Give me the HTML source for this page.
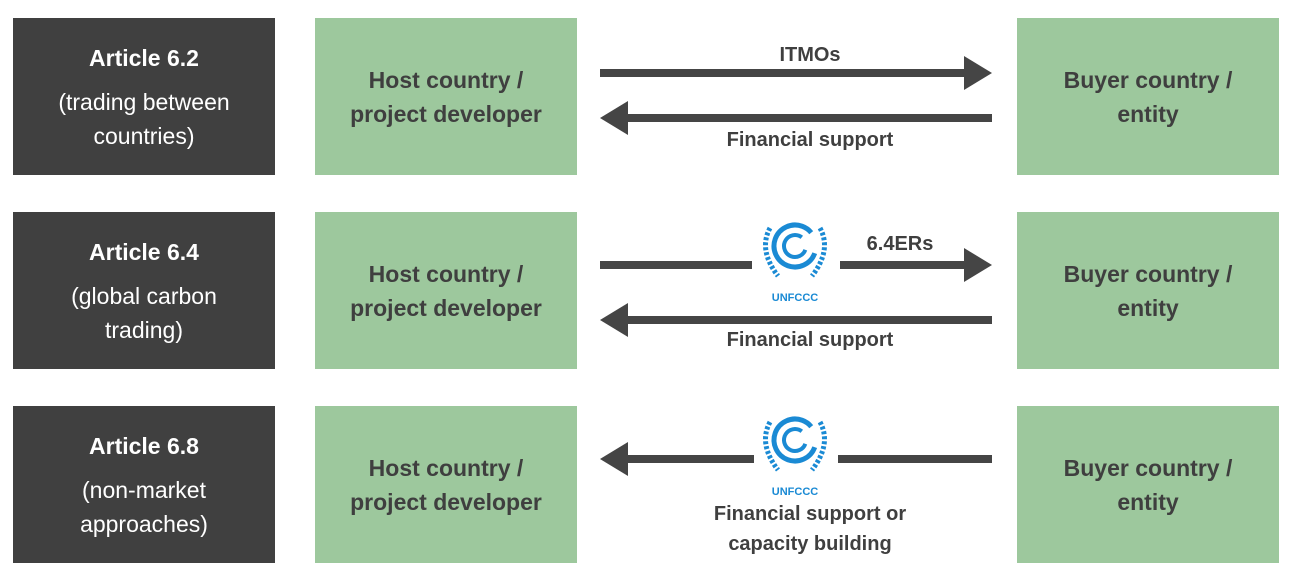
<!DOCTYPE html>
<html><head><style>
body{margin:0;width:1294px;height:588px;background:#fff;font-family:"Liberation Sans",sans-serif;position:relative;overflow:hidden}
.b{position:absolute;display:flex;align-items:center;justify-content:center;text-align:center;flex-direction:column}
.d{background:#404040;color:#fff;left:13px;width:262px;height:157px;font-size:23px;line-height:34px}
.d b{font-size:23px;margin-bottom:10px}
.g{background:#9dc89d;color:#3f3f3f;font-weight:bold;font-size:23px;line-height:34px;width:262px;height:157px}
.t{position:absolute;color:#3f3f3f;font-weight:bold;font-size:20px;text-align:center;line-height:30px}
svg{position:absolute;left:0;top:0}
</style></head><body>
<div class="b d" style="top:18px"><b>Article 6.2</b>(trading between<br>countries)</div>
<div class="b d" style="top:212px"><b>Article 6.4</b>(global carbon<br>trading)</div>
<div class="b d" style="top:406px"><b>Article 6.8</b>(non-market<br>approaches)</div>
<div class="b g" style="left:315px;top:18px">Host country /<br>project developer</div>
<div class="b g" style="left:315px;top:212px">Host country /<br>project developer</div>
<div class="b g" style="left:315px;top:406px">Host country /<br>project developer</div>
<div class="b g" style="left:1017px;top:18px">Buyer country /<br>entity</div>
<div class="b g" style="left:1017px;top:212px">Buyer country /<br>entity</div>
<div class="b g" style="left:1017px;top:406px">Buyer country /<br>entity</div>
<svg width="1294" height="588">
<g fill="#454545">
<rect x="600" y="69" width="368" height="8"/><polygon points="964,56 992,73 964,90"/>
<rect x="624" y="114" width="368" height="8"/><polygon points="628,101 600,118 628,135"/>
<rect x="600" y="261" width="152" height="8"/><rect x="840" y="261" width="128" height="8"/><polygon points="964,248 992,265 964,282"/>
<rect x="624" y="316" width="368" height="8"/><polygon points="628,303 600,320 628,337"/>
<rect x="624" y="455" width="130" height="8"/><rect x="838" y="455" width="154" height="8"/><polygon points="628,442 600,459 628,476"/>
</g>
<g id="lg" fill="none" stroke="#1a8ad4">
<circle cx="795" cy="246" r="21" stroke-width="5" stroke-dasharray="110 22" transform="rotate(20 795 246)"/>
<circle cx="795" cy="246" r="11" stroke-width="4" stroke-dasharray="55 14" transform="rotate(20 795 246)"/>
<path d="M770 228 Q758 250 778 276" stroke-width="5" stroke-dasharray="3 2"/>
<path d="M820 228 Q832 250 812 276" stroke-width="5" stroke-dasharray="3 2"/>
</g>
<text x="795" y="301" font-family="Liberation Sans" font-weight="bold" font-size="11" fill="#1a8ad4" text-anchor="middle">UNFCCC</text>
<use href="#lg" y="194"/>
<text x="795" y="495" font-family="Liberation Sans" font-weight="bold" font-size="11" fill="#1a8ad4" text-anchor="middle">UNFCCC</text>
</svg>
<div class="t" style="left:700px;top:40px;width:220px">ITMOs</div>
<div class="t" style="left:680px;top:125px;width:260px">Financial support</div>
<div class="t" style="left:850px;top:229px;width:100px">6.4ERs</div>
<div class="t" style="left:680px;top:325px;width:260px">Financial support</div>
<div class="t" style="left:660px;top:499px;width:300px">Financial support or<br>capacity building</div>
</body></html>
